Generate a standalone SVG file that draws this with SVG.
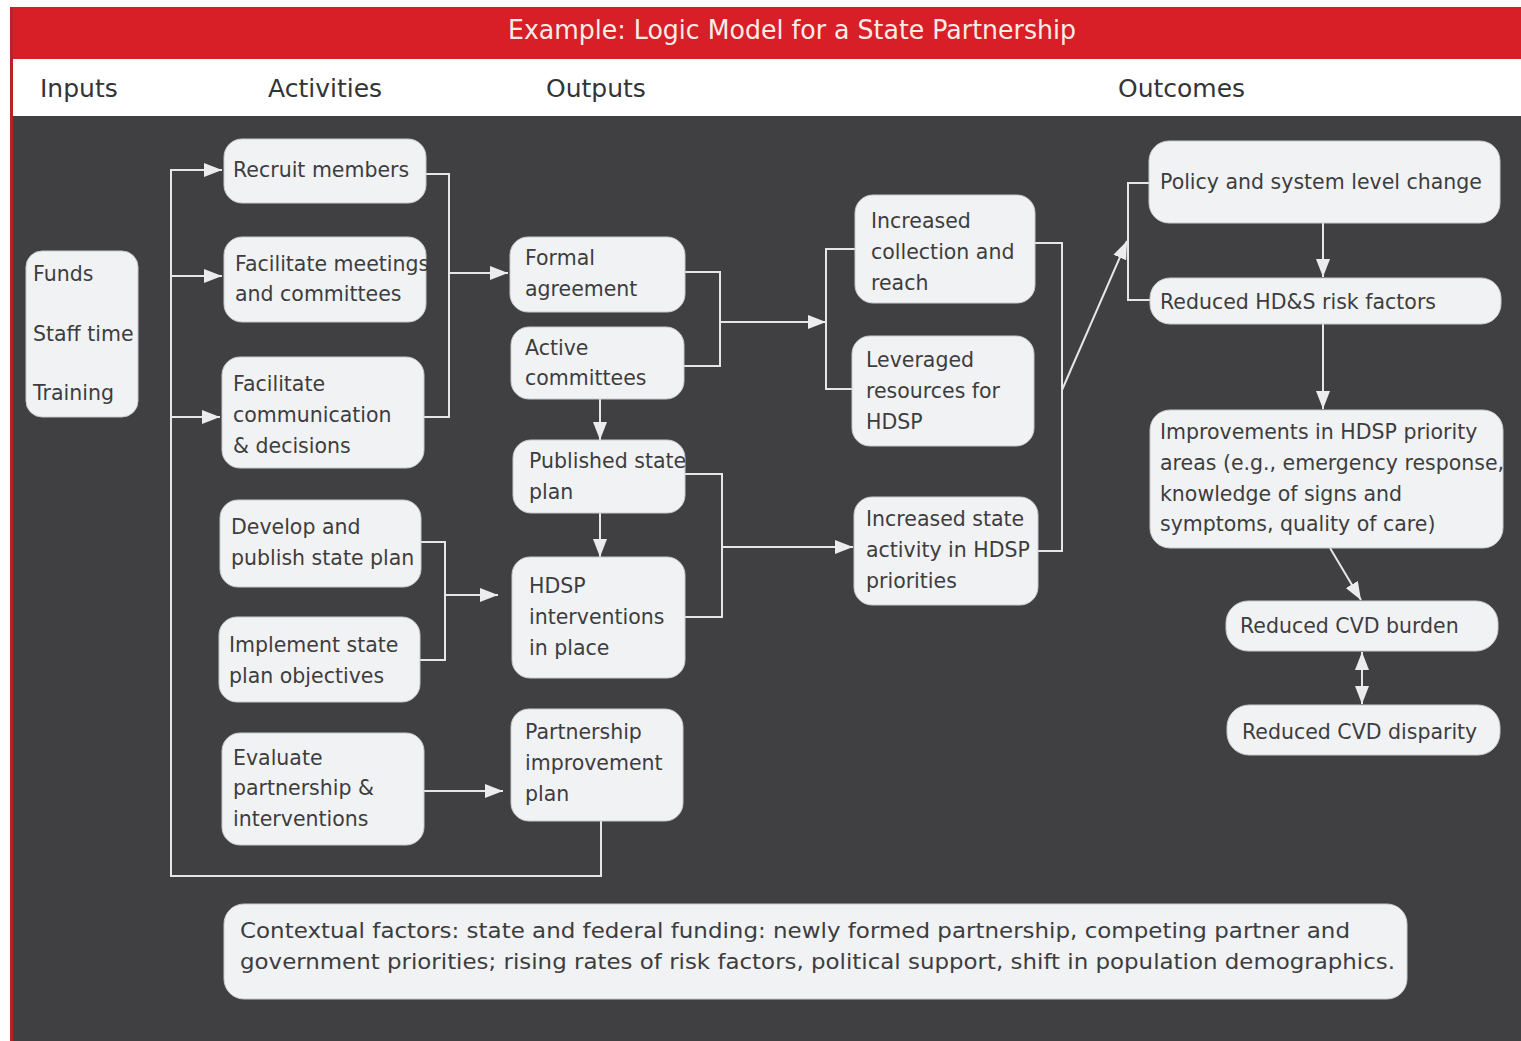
<svg xmlns="http://www.w3.org/2000/svg" width="1521" height="1041" viewBox="0 0 1521 1041">
<defs>
<style>
.bg{fill:#404042}
.box{fill:#f1f2f4;stroke:#c9cacc;stroke-width:1}
.t{font-family:"DejaVu Sans",Verdana,sans-serif;font-size:20.5px;fill:#3d3d3f}
.hd{font-family:"DejaVu Sans",Verdana,sans-serif;font-size:25px;fill:#333436}
.title{font-family:"DejaVu Sans",Verdana,sans-serif;font-size:26px;fill:#f8ece6}
.c{fill:none;stroke:#e6e6e8;stroke-width:2}
.a{marker-end:url(#arr)}
</style>
<marker id="arr" viewBox="0 0 18 14" refX="18" refY="7" markerWidth="18" markerHeight="14" markerUnits="userSpaceOnUse" orient="auto-start-reverse">
<path d="M0,0 L18,7 L0,14 z" fill="#ececee"/>
</marker>
</defs>
<rect x="0" y="0" width="1521" height="1041" fill="#ffffff"/>
<rect x="10" y="116" width="1511" height="925" class="bg"/>
<rect x="10" y="7" width="1511" height="52" fill="#d81e26"/>
<rect x="10" y="7" width="3" height="1034" fill="#b8222a"/>
<text class="title" x="792" y="39" text-anchor="middle" textLength="568" lengthAdjust="spacingAndGlyphs">Example: Logic Model for a State Partnership</text>
<g id="headers">
<text class="hd" x="40" y="97">Inputs</text>
<text class="hd" x="268" y="97">Activities</text>
<text class="hd" x="546" y="97">Outputs</text>
<text class="hd" x="1118" y="97">Outcomes</text>
</g>
<g id="connectors">
<path class="c a" d="M601,821 V876 H171 V170 H222"/>
<path class="c a" d="M171,276 H222"/>
<path class="c a" d="M171,417 H220"/>
<path class="c" d="M426,174 H449 V417 H424"/>
<path class="c a" d="M449,273 H508"/>
<path class="c" d="M685,272 H720 V366 H684"/>
<path class="c a" d="M720,322 H826"/>
<path class="c" d="M855,249 H826 V389 H852"/>
<path class="c a" d="M600,399 V440"/>
<path class="c a" d="M600,513 V557"/>
<path class="c" d="M421,542 H445 V660 H420"/>
<path class="c a" d="M445,595 H498"/>
<path class="c" d="M685,474 H722 V617 H685"/>
<path class="c a" d="M722,547 H853"/>
<path class="c a" d="M424,791 H503"/>
<path class="c" d="M1035,243 H1062 V551 H1038"/>
<path class="c a" d="M1062,390 L1127,241"/>
<path class="c" d="M1150,183 H1128 V300 H1150"/>
<path class="c a" d="M1323,223 V277"/>
<path class="c a" d="M1323,324 V409"/>
<path class="c a" d="M1330,548 L1361,600"/>
<path class="c a" d="M1362,652 V704" marker-start="url(#arr)"/>
</g>
<g id="inputs">
<rect class="box" x="26" y="251" width="112" height="166" rx="16"/>
<text class="t" x="33" y="281">Funds</text>
<text class="t" x="33" y="341">Staff time</text>
<text class="t" x="33" y="400">Training</text>
</g>
<g id="recruit">
<rect class="box" x="224" y="139" width="202" height="64" rx="18"/>
<text class="t" x="233" y="177">Recruit members</text>
</g>
<g id="meetings">
<rect class="box" x="224" y="237" width="202" height="85" rx="18"/>
<text class="t" x="235" y="271">Facilitate meetings</text>
<text class="t" x="235" y="301">and committees</text>
</g>
<g id="communication">
<rect class="box" x="222" y="357" width="202" height="111" rx="18"/>
<text class="t" x="233" y="391">Facilitate</text>
<text class="t" x="233" y="422">communication</text>
<text class="t" x="233" y="453">&amp; decisions</text>
</g>
<g id="develop">
<rect class="box" x="220" y="500" width="201" height="87" rx="18"/>
<text class="t" x="231" y="534">Develop and</text>
<text class="t" x="231" y="565">publish state plan</text>
</g>
<g id="implement">
<rect class="box" x="219" y="617" width="201" height="85" rx="18"/>
<text class="t" x="229" y="652">Implement state</text>
<text class="t" x="229" y="683">plan objectives</text>
</g>
<g id="evaluate">
<rect class="box" x="222" y="733" width="202" height="112" rx="18"/>
<text class="t" x="233" y="765">Evaluate</text>
<text class="t" x="233" y="795">partnership &amp;</text>
<text class="t" x="233" y="826">interventions</text>
</g>
<g id="formal">
<rect class="box" x="510" y="237" width="175" height="75" rx="18"/>
<text class="t" x="525" y="265">Formal</text>
<text class="t" x="525" y="296">agreement</text>
</g>
<g id="active">
<rect class="box" x="511" y="327" width="173" height="72" rx="18"/>
<text class="t" x="525" y="355">Active</text>
<text class="t" x="525" y="385">committees</text>
</g>
<g id="published">
<rect class="box" x="513" y="440" width="172" height="73" rx="18"/>
<text class="t" x="529" y="468">Published state</text>
<text class="t" x="529" y="499">plan</text>
</g>
<g id="hdsp">
<rect class="box" x="512" y="557" width="173" height="121" rx="18"/>
<text class="t" x="529" y="593">HDSP</text>
<text class="t" x="529" y="624">interventions</text>
<text class="t" x="529" y="655">in place</text>
</g>
<g id="pip">
<rect class="box" x="511" y="709" width="172" height="112" rx="18"/>
<text class="t" x="525" y="739">Partnership</text>
<text class="t" x="525" y="770">improvement</text>
<text class="t" x="525" y="801">plan</text>
</g>
<g id="collection">
<rect class="box" x="855" y="195" width="180" height="108" rx="18"/>
<text class="t" x="871" y="228">Increased</text>
<text class="t" x="871" y="259">collection and</text>
<text class="t" x="871" y="290">reach</text>
</g>
<g id="leveraged">
<rect class="box" x="852" y="336" width="182" height="110" rx="18"/>
<text class="t" x="866" y="367">Leveraged</text>
<text class="t" x="866" y="398">resources for</text>
<text class="t" x="866" y="429">HDSP</text>
</g>
<g id="stateactivity">
<rect class="box" x="854" y="497" width="184" height="108" rx="18"/>
<text class="t" x="866" y="526">Increased state</text>
<text class="t" x="866" y="557">activity in HDSP</text>
<text class="t" x="866" y="588">priorities</text>
</g>
<g id="policy">
<rect class="box" x="1149" y="141" width="351" height="82" rx="20"/>
<text class="t" x="1160" y="189">Policy and system level change</text>
</g>
<g id="riskfactors">
<rect class="box" x="1150" y="278" width="351" height="46" rx="20"/>
<text class="t" x="1160" y="309">Reduced HD&amp;S risk factors</text>
</g>
<g id="improvements">
<rect class="box" x="1150" y="410" width="353" height="138" rx="20"/>
<text class="t" x="1160" y="439">Improvements in HDSP priority</text>
<text class="t" x="1160" y="470">areas (e.g., emergency response,</text>
<text class="t" x="1160" y="501">knowledge of signs and</text>
<text class="t" x="1160" y="531">symptoms, quality of care)</text>
</g>
<g id="burden">
<rect class="box" x="1226" y="601" width="272" height="50" rx="22"/>
<text class="t" x="1240" y="633">Reduced CVD burden</text>
</g>
<g id="disparity">
<rect class="box" x="1227" y="705" width="273" height="50" rx="22"/>
<text class="t" x="1242" y="739">Reduced CVD disparity</text>
</g>
<g id="context">
<rect class="box" x="224" y="904" width="1183" height="95" rx="20"/>
<text class="t" x="240" y="938" textLength="1110" lengthAdjust="spacingAndGlyphs">Contextual factors: state and federal funding: newly formed partnership, competing partner and</text>
<text class="t" x="240" y="969" textLength="1155" lengthAdjust="spacingAndGlyphs">government priorities; rising rates of risk factors, political support, shift in population demographics.</text>
</g>
</svg>
